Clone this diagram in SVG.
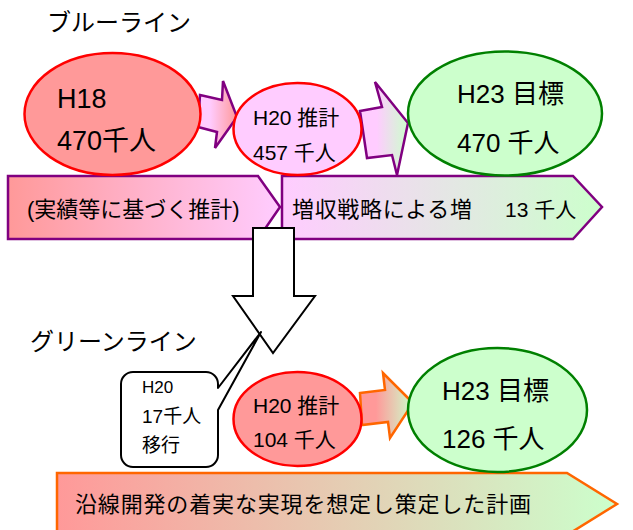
<svg xmlns="http://www.w3.org/2000/svg" width="633" height="530" viewBox="0 0 633 530">
<defs>
<linearGradient id="gSalPink" x1="0" y1="0" x2="1" y2="0"><stop offset="0" stop-color="#ff9999"/><stop offset="1" stop-color="#ffccff"/></linearGradient>
<linearGradient id="gPinkSal" x1="0" y1="0" x2="1" y2="0"><stop offset="0" stop-color="#ffccff"/><stop offset="0.3" stop-color="#ffccff"/><stop offset="1" stop-color="#ff9999"/></linearGradient>
<linearGradient id="gPinkGreen" x1="0" y1="0" x2="1" y2="0"><stop offset="0" stop-color="#ffccff"/><stop offset="1" stop-color="#ccffcc"/></linearGradient>
<linearGradient id="gArrowPG" x1="0" y1="0" x2="1" y2="0"><stop offset="0" stop-color="#ffccff"/><stop offset="0.35" stop-color="#ffccff"/><stop offset="1" stop-color="#ccffcc"/></linearGradient>
<linearGradient id="gSalGreen" x1="0" y1="0" x2="1" y2="0"><stop offset="0" stop-color="#ff9999"/><stop offset="1" stop-color="#ccffcc"/></linearGradient>
<linearGradient id="gArrowSG" x1="0" y1="0" x2="1" y2="0"><stop offset="0" stop-color="#ff9999"/><stop offset="0.3" stop-color="#ff9999"/><stop offset="1" stop-color="#ccffcc"/></linearGradient>
</defs>
<style>
text{font-family:"Liberation Sans","Noto Sans CJK JP",sans-serif;fill:#000}
.purple{stroke:#800080;stroke-width:2.5;stroke-linejoin:miter}
.orange{stroke:#ff6600;stroke-width:2.5}
.red{stroke:#ff0000;stroke-width:2.5}
.green{stroke:#008000;stroke-width:2.5}
.t22{font-size:22px}
.t26{font-size:26px}
.t21{font-size:21px}
</style>
<rect width="633" height="530" fill="#fff"/>

<g id="title-blue"><text x="47" y="31" font-size="24">ブルーライン</text></g>
<g id="title-green"><text x="30" y="350" font-size="24">グリーンライン</text></g>

<g id="bar-actual">
<polygon class="purple" fill="url(#gSalPink)" points="8,176 258,176 280,207 258,239 8,239"/>
<text x="27" y="217" class="t22">(実績等に基づく推計)</text>
</g>
<g id="bar-strategy">
<polygon class="purple" fill="url(#gPinkGreen)" points="282,176 573,176 602,207 573,239 282,239"/>
<text x="292" y="217" class="t22" textLength="180">増収戦略による増</text>
<text x="505" y="217" class="t21">13 千人</text>
</g>
<g id="bar-plan">
<polygon class="orange" fill="url(#gSalGreen)" points="57,473 567,473 617,504 567,535 57,535"/>
<text x="75" y="512" class="t22" textLength="456">沿線開発の着実な実現を想定し策定した計画</text>
</g>

<g id="connectors">
<polygon class="purple" fill="url(#gPinkSal)" points="200,95 222,100 223,81 237,117 215,148 217,132 198,127"/>
<polygon class="purple" fill="url(#gArrowPG)" points="360,111 382,107 375,82 408,123 397,175 392,155 367,158"/>
<polygon class="orange" fill="url(#gArrowSG)" points="360,393 385,390 383,373 413,403 390,438 388,422 362,425"/>
<polygon fill="#fff" stroke="#000" stroke-width="2" points="253,228 294,228 294,296 315,296 273,353 233,296 253,296"/>
</g>

<g id="h18">
<ellipse class="red" fill="#ff9999" cx="112.5" cy="114" rx="88" ry="61"/>
<text x="57" y="108" font-size="27">H18</text>
<text x="57" y="150" font-size="27">470千人</text>
</g>
<g id="h20-blue">
<ellipse class="red" fill="#ffccff" cx="297.5" cy="129" rx="64" ry="46"/>
<text x="253" y="125" class="t21">H20 推計</text>
<text x="253" y="160" class="t21">457 千人</text>
</g>
<g id="h23-blue">
<ellipse class="green" fill="#ccffcc" cx="505" cy="113.5" rx="97" ry="62"/>
<text x="457" y="103" class="t26">H23 目標</text>
<text x="457" y="152" class="t26">470 千人</text>
</g>

<g id="callout">
<path fill="#fff" stroke="#000" stroke-width="2" stroke-linejoin="round" d="M133,372 H206 A12,12 0 0 1 218,384 V388 L261,332 L218,410 V455 A12,12 0 0 1 206,467 H133 A12,12 0 0 1 121,455 V384 A12,12 0 0 1 133,372 Z"/>
<text x="142" y="393" font-size="17">H20</text>
<text x="142" y="423" font-size="19">17千人</text>
<text x="142" y="452" font-size="19">移行</text>
</g>
<g id="h20-green">
<ellipse class="red" fill="#ff9999" cx="297.5" cy="419" rx="64" ry="47"/>
<text x="253" y="413" class="t21">H20 推計</text>
<text x="253" y="447" class="t21">104 千人</text>
</g>
<g id="h23-green">
<ellipse class="green" fill="#ccffcc" cx="497.5" cy="410" rx="89.5" ry="62"/>
<text x="442" y="400" class="t26">H23 目標</text>
<text x="442" y="448" class="t26">126 千人</text>
</g>
</svg>
